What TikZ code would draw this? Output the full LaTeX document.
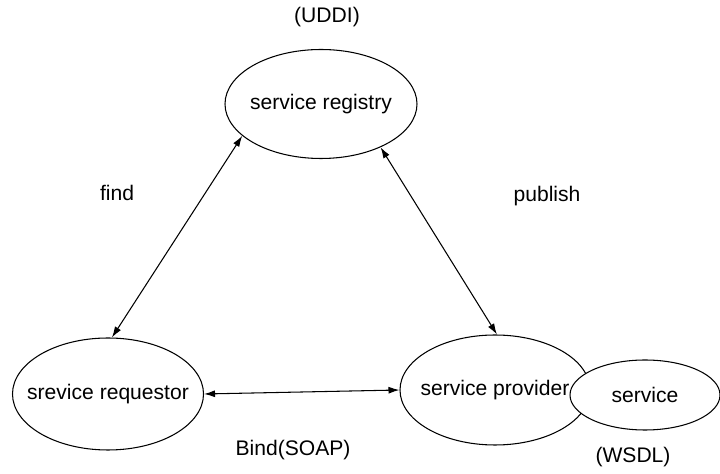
\documentclass[tikz,border=0pt]{standalone}
\usepackage{fontspec}
\setmainfont{Liberation Sans}
\usetikzlibrary{shapes.geometric,arrows.meta}

\begin{document}
\begin{tikzpicture}[
		role/.style={draw, ellipse, line width=0.6pt, inner xsep=-1cm, inner ysep=0pt},
		link/.style={line width=0.6pt, {Latex[length=2.2mm,width=1.4mm]}-{Latex[length=2.2mm,width=1.4mm]}},
		every node/.style={font=\fontsize{12}{14}\selectfont}
	]
			%%%%% START %%%%%
			
			\useasboundingbox (0, 0) rectangle (14.4, -9.48);
			
			\node[role, minimum width=3.84cm, minimum height=2.18cm] (registry) at (6.42, -2.08) {service registry};
			\node[role, minimum width=3.82cm, minimum height=2.24cm] (requestor) at (2.16, -7.88) {srevice requestor};
			\node[role, minimum width=3.8cm, minimum height=2.2cm] (provider) at (9.9, -7.8) {service provider};
			\node[role, fill=white, minimum width=3.0cm, minimum height=1.4cm] (service) at (12.9, -7.9) {service};
			
			\node (uddi) at (6.54, -0.34) {(UDDI)};
			\node (find) at (2.34, -3.86) {find};
			\node (publish) at (10.94, -3.92) {publish};
			\node (bind) at (5.86, -9.0) {Bind(SOAP)};
			\node (wsdl) at (12.66, -9.14) {(WSDL)};
			
			\draw[link] (requestor.86) -- (registry.202);
			\draw[link] (registry.324) -- (provider.88);
			\draw[link] (requestor.east) -- (provider.west);
			
			%%%%% END %%%%%
		\end{tikzpicture}
\end{document}
